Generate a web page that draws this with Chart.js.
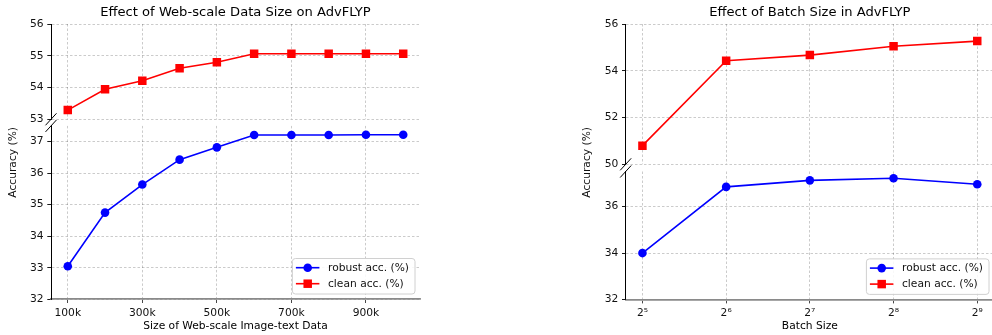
<!DOCTYPE html>
<html>
<head>
<meta charset="utf-8">
<script src="https://cdn.jsdelivr.net/npm/chart.js@4/dist/chart.umd.min.js"></script>
<style>
html,body{margin:0;padding:0;background:#fff;overflow:hidden;width:992px;height:335px;}
#wrap{position:relative;width:992px;height:335px;overflow:hidden;background:#fff;}
canvas{position:absolute;}
.ylab{position:absolute;width:16px;height:120px;display:flex;align-items:center;justify-content:center;}
.ylab span{font-family:'DejaVu Sans',sans-serif;font-size:10.7px;color:#111;writing-mode:vertical-rl;transform:rotate(180deg);white-space:nowrap;line-height:16px;}
</style>
</head>
<body>
<div id="wrap">
  <canvas id="c1t" width="430" height="131" style="left:0px;top:0px"></canvas>
  <canvas id="c1b" width="430" height="223" style="left:0px;top:112px"></canvas>
  <canvas id="c2t" width="440" height="176" style="left:560px;top:0px"></canvas>
  <canvas id="c2b" width="440" height="177" style="left:560px;top:158px"></canvas>
  <div class="ylab" style="left:5px;top:102px"><span>Accuracy (%)</span></div>
  <div class="ylab" style="left:579px;top:102px"><span>Accuracy (%)</span></div>
</div>
<script>
// ---- data ----
const seriesLabels = ['robust acc. (%)', 'clean acc. (%)'];

const sizeX = [100000, 200000, 300000, 400000, 500000, 600000, 700000, 800000, 900000, 1000000];
const sizeRobust = [33.05, 34.75, 35.64, 36.43, 36.82, 37.21, 37.21, 37.21, 37.22, 37.22];
const sizeClean = [53.29, 53.95, 54.22, 54.61, 54.80, 55.07, 55.07, 55.07, 55.07, 55.07];
const sizeTickValues = [100000, 300000, 500000, 700000, 900000];
const sizeTickLabels = ['100k', '300k', '500k', '700k', '900k'];
const sizeTopYTicks = [53, 54, 55, 56];
const sizeBottomYTicks = [32, 33, 34, 35, 36, 37];

const batchX = [5, 6, 7, 8, 9];
const batchTickLabels = ['2\u2075', '2\u2076', '2\u2077', '2\u2078', '2\u2079'];
const batchRobust = [34.0, 36.84, 37.12, 37.21, 36.95];
const batchClean = [50.8, 54.44, 54.68, 55.06, 55.28];
const batchTopYTicks = [50, 52, 54, 56];
const batchBottomYTicks = [32, 34, 36];

const titles = ['Effect of Web-scale Data Size on AdvFLYP', 'Effect of Batch Size in AdvFLYP'];
const xTitles = ['Size of Web-scale Image-text Data', 'Batch Size'];

// ---- style ----
Chart.defaults.font.family = "'DejaVu Sans', sans-serif";
Chart.defaults.font.size = 10.7;
Chart.defaults.color = '#111';
const GRID = 'rgba(0,0,0,0.26)';

const breakMarks = {
  id: 'breakMarks',
  afterDraw(chart, args, opts) {
    const {ctx, chartArea: a} = chart;
    const x = a.left;
    const y = opts.edge === 'bottom' ? a.bottom : a.top;
    ctx.save();
    ctx.strokeStyle = '#000';
    ctx.lineWidth = 1;
    ctx.beginPath();
    ctx.moveTo(x - 5.5, y + 6);
    ctx.lineTo(x + 5.5, y - 6);
    ctx.stroke();
    ctx.restore();
  }
};

const boxLegend = {
  id: 'boxLegend',
  afterDraw(chart, args, opts) {
    if (!opts.display) return;
    const {ctx, chartArea: a} = chart;
    const ds = chart.data.datasets;
    ctx.save();
    ctx.font = "10.7px 'DejaVu Sans'";
    const tw = Math.max(...ds.map(d => ctx.measureText(d.label).width));
    const w = 35.6 + tw + 6, h = 35.5;
    const right = a.right - 5, bottom = a.bottom - 5.3;
    const left = right - w, top = bottom - h;
    ctx.beginPath();
    ctx.roundRect(left, top, w, h, 3);
    ctx.fillStyle = 'rgba(255,255,255,0.85)';
    ctx.fill();
    ctx.strokeStyle = '#d0d0d0';
    ctx.lineWidth = 1;
    ctx.stroke();
    ds.forEach((d, i) => {
      const cy = top + 9.2 + i * 16;
      ctx.strokeStyle = d.borderColor;
      ctx.lineWidth = d.borderWidth;
      ctx.beginPath();
      ctx.moveTo(left + 3.5, cy);
      ctx.lineTo(left + 27, cy);
      ctx.stroke();
      ctx.fillStyle = d.backgroundColor;
      const mx = left + 15.3;
      if (d.pointStyle === 'rect') {
        const s = d.pointRadius * Math.SQRT1_2;
        ctx.fillRect(mx - s, cy - s, 2 * s, 2 * s);
      } else {
        ctx.beginPath();
        ctx.arc(mx, cy, d.pointRadius, 0, Math.PI * 2);
        ctx.fill();
      }
      ctx.fillStyle = '#111';
      ctx.textBaseline = 'middle';
      ctx.textAlign = 'left';
      ctx.fillText(d.label, left + 35.6, cy + 0.5);
    });
    ctx.restore();
  }
};

function makeChart(id, o) {
  const isTop = o.part === 'top';
  const pts = ys => o.xs.map((x, i) => ({x: x, y: ys[i]}));
  return new Chart(document.getElementById(id), {
    type: 'line',
    data: {
      datasets: [
        {label: seriesLabels[0], data: pts(o.robust), borderColor: '#0000ff', backgroundColor: '#0000ff',
         pointStyle: 'circle', pointRadius: 4.3, pointHoverRadius: 4.3, borderWidth: 1.6, pointBorderWidth: 0},
        {label: seriesLabels[1], data: pts(o.clean), borderColor: '#ff0000', backgroundColor: '#ff0000',
         pointStyle: 'rect', pointRadius: 6, pointHoverRadius: 6, borderWidth: 1.6, pointBorderWidth: 0}
      ]
    },
    options: {
      responsive: false, animation: false, devicePixelRatio: 1,
      layout: {padding: o.padding, autoPadding: false},
      plugins: {
        legend: {display: false}, tooltip: {enabled: false}, title: {display: false},
        breakMarks: {edge: isTop ? 'bottom' : 'top'},
        boxLegend: {display: !isTop}
      },
      scales: {
        x: {
          type: 'linear', position: isTop ? 'top' : 'bottom', min: o.xMin, max: o.xMax,
          afterBuildTicks: s => { s.ticks = o.xTicks.map(v => ({value: v})); },
          afterFit: s => { s.height = o.xAxisH; },
          ticks: {display: !isTop, maxRotation: 0, minRotation: 0, autoSkip: false, padding: 3.7,
                  callback: (v, i) => o.xLabels[i], color: '#111'},
          grid: {color: GRID, lineWidth: 0.8, drawTicks: !isTop, tickLength: 3.7, tickColor: '#333', tickWidth: 0.9, tickBorderDash: []},
          border: {display: !isTop, color: '#8a8a8a', width: 1.8, dash: [2.5, 2]},
          title: {display: true, text: isTop ? o.title : o.xTitle, color: '#000',
                  font: {size: isTop ? 13.1 : 10.7},
                  padding: isTop ? {top: 5.1, bottom: 0} : {top: 0, bottom: 2.6}}
        },
        y: {
          type: 'linear', min: o.yMin, max: o.yMax,
          afterBuildTicks: s => { s.ticks = o.yTicks.map(v => ({value: v})); },
          afterFit: s => { s.width = o.yAxisW; },
          ticks: {padding: 3.7, color: '#111'},
          grid: {color: GRID, lineWidth: 0.8, tickLength: 3.7, tickColor: '#000', tickWidth: 0.9, tickBorderDash: []},
          border: {display: true, color: '#000', width: 1, dash: [2.5, 2]}
        }
      }
    },
    plugins: [breakMarks, boxLegend]
  });
}

makeChart('c1t', {part: 'top', xs: sizeX, robust: sizeRobust, clean: sizeClean,
  xMin: 55000, xMax: 1045000, xTicks: sizeTickValues, xLabels: sizeTickLabels,
  yMin: 53, yMax: 56, yTicks: sizeTopYTicks, yAxisW: 51, xAxisH: 24.3, title: titles[0],
  padding: {left: 0, top: 0, right: 10, bottom: 11.7}});
makeChart('c1b', {part: 'bottom', xs: sizeX, robust: sizeRobust, clean: sizeClean,
  xMin: 55000, xMax: 1045000, xTicks: sizeTickValues, xLabels: sizeTickLabels,
  yMin: 32, yMax: 37.5, yTicks: sizeBottomYTicks, yAxisW: 51, xAxisH: 35.7, xTitle: xTitles[0],
  padding: {left: 0, top: 13.9, right: 10, bottom: 0}});
makeChart('c2t', {part: 'top', xs: batchX, robust: batchRobust, clean: batchClean,
  xMin: 4.8, xMax: 9.2, xTicks: batchX, xLabels: batchTickLabels,
  yMin: 50, yMax: 56, yTicks: batchTopYTicks, yAxisW: 65.7, xAxisH: 24.3, title: titles[1],
  padding: {left: 0, top: 0, right: 6, bottom: 11.7}});
makeChart('c2b', {part: 'bottom', xs: batchX, robust: batchRobust, clean: batchClean,
  xMin: 4.8, xMax: 9.2, xTicks: batchX, xLabels: batchTickLabels,
  yMin: 32, yMax: 37.5, yTicks: batchBottomYTicks, yAxisW: 65.7, xAxisH: 35.3, xTitle: xTitles[1],
  padding: {left: 0, top: 13.5, right: 6, bottom: 0}});
</script>
</body>
</html>
